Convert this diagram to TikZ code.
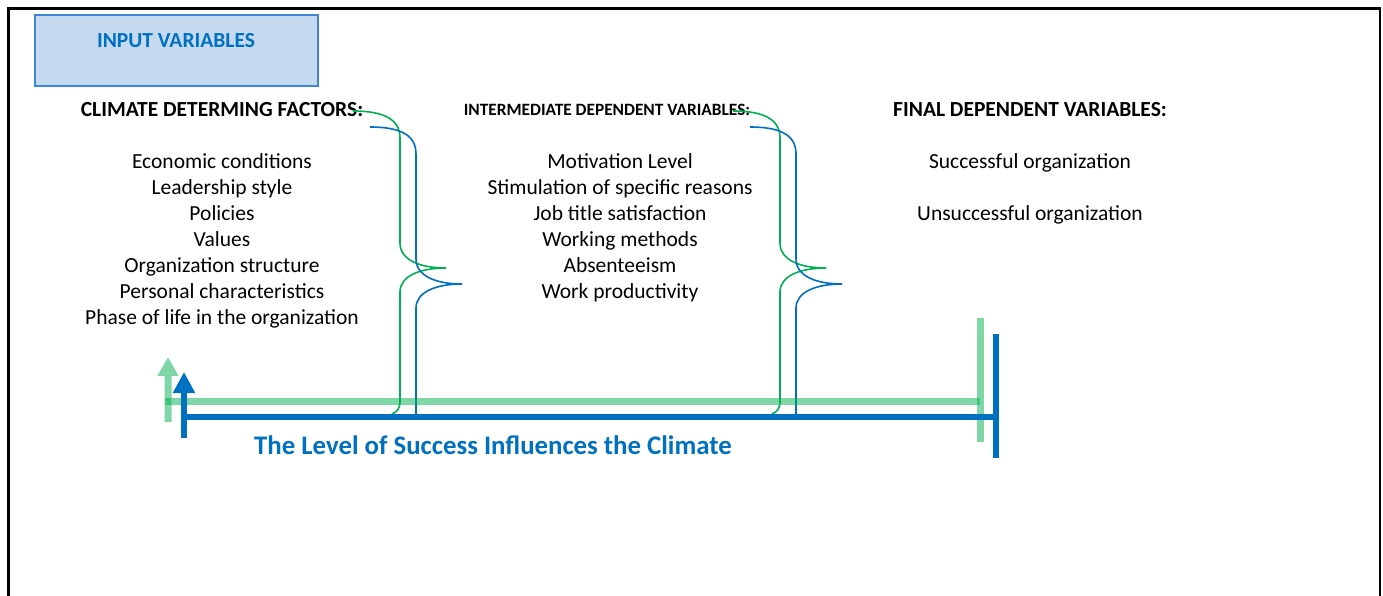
\documentclass[tikz,border=0pt]{standalone}
\usepackage{fontspec}
\setmainfont{Carlito}
\usetikzlibrary{arrows.meta}
\definecolor{mainblue}{RGB}{0,112,192}
\definecolor{bracegreen}{RGB}{0,176,80}
\definecolor{boxfill}{RGB}{197,217,241}
\definecolor{boxedge}{RGB}{60,135,205}
\tikzset{
  item/.style={anchor=base, inner sep=0pt, font=\fontsize{21.5}{25}\selectfont},
  header/.style={anchor=base, inner sep=0pt, font=\fontsize{21.5}{25}\selectfont\bfseries},
  greenbar/.style={draw=bracegreen, draw opacity=0.5, line width=7pt},
  bluebar/.style={draw=mainblue, line width=6pt},
  gbrace/.style={draw=bracegreen, line width=1.6pt},
  bbrace/.style={draw=mainblue, line width=1.6pt},
}
\begin{document}
\begin{tikzpicture}[x=1pt, y=-1pt]
\useasboundingbox (0,0) rectangle (1383,596);
% outer frame, open at the bottom
\draw[line width=2.5pt] (8.5,600) -- (8.5,8.5) -- (1380,8.5) -- (1380,600);

% title box
\node[draw=boxedge, fill=boxfill, line width=1.2pt, minimum width=283pt, minimum height=71pt, inner sep=0pt] (inbox) at (176.5,50.5) {};
\node[anchor=base, inner sep=0pt, text=mainblue, font=\fontsize{21.5}{25}\selectfont\bfseries] (intitle) at (176,47.5) {INPUT VARIABLES};

% column headers
\node[header] (h1) at (222,117) {CLIMATE DETERMING FACTORS:};
\node[header, font=\fontsize{17.3}{20}\selectfont\bfseries] (h2) at (607,116) {INTERMEDIATE DEPENDENT VARIABLES:};
\node[header] (h3) at (1030,117) {FINAL DEPENDENT VARIABLES:};

% left column
\foreach \t [count=\i] in {Economic conditions, Leadership style, Policies, Values,
  Organization structure, Personal characteristics, Phase of life in the organization}
  \node[item] (a\i) at (222,{168+26*(\i-1)}) {\t};

% middle column
\foreach \t [count=\i] in {Motivation Level, Stimulation of specific reasons,
  Job title satisfaction, Working methods, Absenteeism, Work productivity}
  \node[item] (b\i) at (620,{168+26*(\i-1)}) {\t};

% right column
\node[item] (c1) at (1030,168) {Successful organization};
\node[item] (c2) at (1030,220) {Unsuccessful organization};

% braces
\foreach \dx in {0,380} {
  \begin{scope}[xshift=\dx]
    \draw[gbrace] (353,111) .. controls (385,111) and (400,120) .. (400,138)
      -- (400,243) .. controls (400,260) and (420,268) .. (446,268);
    \draw[gbrace] (446,268) .. controls (420,268) and (400,276) .. (400,292)
      -- (400,402) .. controls (400,408) and (397,412) .. (392,414);
    \draw[bbrace] (370,127) .. controls (402,127) and (416,136) .. (416,154)
      -- (416,259) .. controls (416,276) and (436,284) .. (462,284);
    \draw[bbrace] (462,284) .. controls (436,284) and (416,292) .. (416,308)
      -- (416,417);
  \end{scope}
}

% feedback lines
\coordinate (gstart) at (168,422);
\coordinate (gtip) at (168,357);
\coordinate (gleft) at (165,401);
\coordinate (gright) at (980,401);
\coordinate (gtop) at (980,318);
\coordinate (gbot) at (980,442);
\draw[greenbar] (gleft) -- (gright);
\draw[greenbar] (gtop) -- (gbot);
\begin{scope}[transparency group, opacity=0.5]
  \draw[draw=bracegreen, fill=bracegreen, line width=7pt, -{Triangle[width=20pt,length=19pt]}] (gstart) -- (gtip);
\end{scope}

\coordinate (bstart) at (184,438);
\coordinate (btip) at (184,372);
\coordinate (bleft) at (184,417);
\coordinate (bright) at (996,417);
\coordinate (btop) at (996,334);
\coordinate (bbot) at (996,458);
\draw[bluebar] (bleft) -- (bright);
\draw[bluebar] (btop) -- (bbot);
\draw[bluebar, -{Triangle[width=21pt,length=21pt]}] (bstart) -- (btip);

\node[anchor=base, inner sep=0pt, text=mainblue, font=\fontsize{26.8}{31}\selectfont\bfseries] (loop) at (493,454) {The Level of Success Influences the Climate};
\end{tikzpicture}
\end{document}
